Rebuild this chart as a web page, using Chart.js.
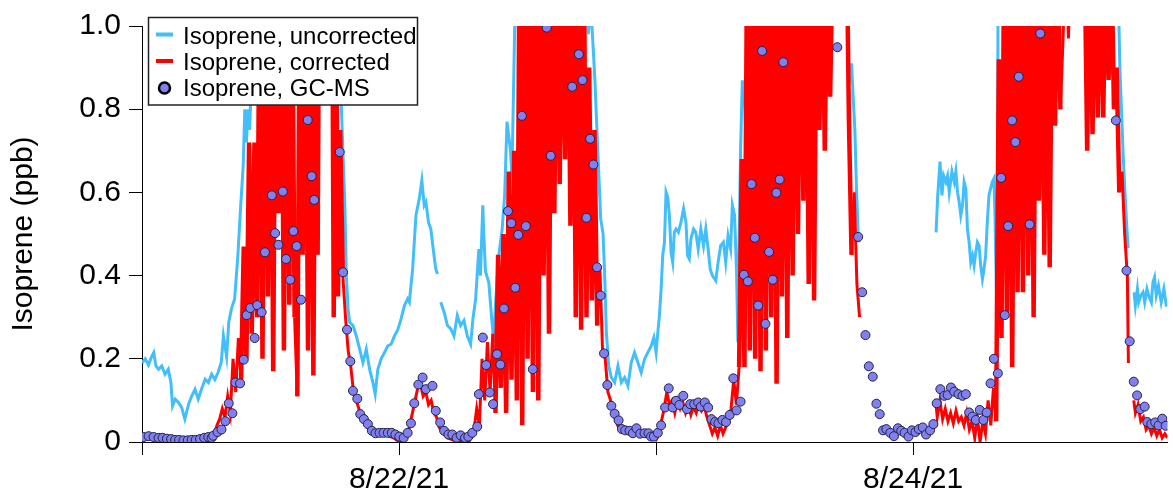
<!DOCTYPE html>
<html>
<head>
<meta charset="utf-8">
<script src="https://cdn.jsdelivr.net/npm/chart.js@4.4.1/dist/chart.umd.min.js"></script>
<style>
  html, body { margin: 0; padding: 0; background: #fff; }
  #wrap { width: 1173px; height: 495px; }
</style>
</head>
<body>
<div id="wrap"><canvas id="myChart" width="1173" height="495"></canvas></div>
<script>
// x values are hours since 8/21/21 00:00
const xTicks = [0, 24, 48, 72];
const xTickLabels = ['', '8/22/21', '', '8/24/21'];
const yTicks = [0, 0.2, 0.4, 0.6, 0.8, 1.0];
const yTickLabels = ['0', '0.2', '0.4', '0.6', '0.8', '1.0'];
const seriesNames = ['Isoprene, uncorrected', 'Isoprene, corrected', 'Isoprene, GC-MS'];

// [hour, ppb]  (null = gap, values > 1 run off the top of the plot)
const uncorrected = [
    [0,0.19],[0.3,0.2],[0.6,0.185],[0.9,0.205],[1.1,0.215],[1.3,0.183],[1.55,0.175],[1.85,0.183],[2.15,0.163],[2.45,0.175],
    [2.7,0.143],[2.85,0.087],[3.1,0.103],[3.4,0.095],[3.7,0.083],[4.0,0.055],[4.35,0.091],[4.65,0.111],[4.95,0.127],[5.25,0.103],
    [5.55,0.127],[5.9,0.151],[6.2,0.143],[6.5,0.163],[6.8,0.15],[7.1,0.167],[7.4,0.191],[7.6,0.255],[7.9,0.205],[8.1,0.288],
    [8.35,0.32],[8.65,0.344],[8.95,0.448],[9.2,0.561],[9.45,0.665],[9.6,0.8],[9.75,0.72],[9.9,0.8],[10.05,0.75],[10.2,0.87],
    [10.5,1.3],[12,1.3],[14,1.3],[16,1.3],[18.3,1.1],[18.62,0.8],[18.93,0.577],[19.08,0.4],[19.24,0.32],[19.39,0.288],
    [19.7,0.28],[20.01,0.255],[20.32,0.223],[20.63,0.191],[20.94,0.223],[21.25,0.175],[21.56,0.143],[21.77,0.115],[22.02,0.175],[22.33,0.2],
    [22.64,0.215],[22.95,0.231],[23.26,0.235],[23.57,0.255],[23.88,0.27],[24.19,0.296],[24.5,0.328],[24.8,0.344],[24.96,0.336],[25.27,0.416],
    [25.58,0.545],[25.89,0.585],[26.13,0.629],[26.35,0.569],[26.51,0.577],[26.75,0.528],[26.97,0.512],[27.19,0.464],[27.43,0.416],[27.59,0.404],
    [27.75,null],[27.9,0.336],[28.21,0.312],[28.52,0.28],[28.83,0.272],[29.13,0.255],[29.44,0.304],[29.75,0.28],[30.06,0.292],[30.37,0.255],
    [30.68,0.235],[30.9,0.296],[31.15,0.344],[31.45,0.464],[31.6,0.4],[31.82,0.569],[31.91,0.5],[32.07,0.41],[32.38,0.384],[32.63,0.304],
    [32.84,0.24],[33.0,0.33],[33.31,0.448],[33.62,0.51],[33.86,0.593],[34.08,0.77],[34.39,0.705],[34.54,0.64],[34.8,1.0],[35.1,1.3],
    [38,1.3],[41.5,1.3],[41.66,0.98],[41.9,1.05],[42.12,0.95],[42.28,0.874],[42.59,0.68],[42.83,0.537],[43.05,0.5],[43.2,0.4],
    [43.36,0.263],[43.57,0.183],[43.82,0.155],[44.13,0.143],[44.44,0.183],[44.75,0.143],[45.06,0.155],[45.37,0.135],[45.68,0.191],[45.99,0.215],
    [46.3,0.191],[46.61,0.167],[46.92,0.199],[47.22,0.215],[47.53,0.23],[47.79,0.251],[48.0,0.215],[48.16,0.263],[48.31,0.304],[48.47,0.368],
    [48.62,0.448],[48.78,0.48],[48.93,0.601],[49.09,0.589],[49.24,0.545],[49.4,0.456],[49.55,0.432],[49.7,0.504],[49.86,0.512],[50.08,0.504],
    [50.32,0.528],[50.57,0.561],[50.79,0.528],[50.94,0.448],[51.1,0.44],[51.25,0.488],[51.5,0.512],[51.71,0.504],[51.93,0.464],[52.18,0.512],
    [52.43,0.472],[52.64,0.512],[52.86,0.464],[53.05,0.416],[53.26,0.4],[53.57,0.388],[53.79,0.432],[54.03,0.472],[54.28,0.48],[54.5,0.432],
    [54.72,0.496],[54.96,0.464],[55.12,0.569],[55.33,0.545],[55.52,0.4],[55.64,0.239],[55.74,0.464],[55.89,0.705],[56.05,0.866],[56.2,0.866],
    [56.35,0.76],[56.51,0.785],[56.66,1.3],[60,1.3],[65.7,1.3],[65.94,0.92],[66.09,0.88],[66.25,0.91],[66.4,0.83],[66.56,0.75],
    [66.71,0.61],[66.87,0.5],[66.93,0.48],[67.1,null],
    [74.14,0.504],[74.29,0.59],[74.51,0.674],[74.69,0.593],[74.85,0.64],[75.06,0.625],[75.22,0.64],[75.37,0.6],[75.62,0.65],[75.84,0.625],
    [75.99,0.65],[76.15,0.6],[76.3,0.577],[76.45,0.545],[76.61,0.569],[76.76,0.625],[76.92,0.609],[77.07,0.512],[77.23,0.48],[77.38,0.432],
    [77.54,0.448],[77.69,0.424],[77.85,0.456],[78.0,0.48],[78.16,0.472],[78.31,0.424],[78.47,0.392],[78.62,0.416],[78.77,0.448],[78.93,0.53],
    [79.08,0.593],[79.23,0.609],[79.39,0.625],[79.54,0.633],[79.64,0.545],[79.76,0.384],[79.85,0.263],[79.95,1.3],[85,1.3],[90.5,1.3],
    [91.14,1.1],[91.3,0.9],[91.45,0.8],[91.61,0.69],[91.76,0.61],[91.92,0.53],[92.07,0.466],[92.3,null],
    [92.63,0.36],[92.75,0.328],[92.94,0.368],[93.06,0.336],[93.25,0.352],[93.46,0.36],[93.62,0.336],[93.83,0.368],[93.99,0.352],[94.24,0.336],
    [94.39,0.384],[94.54,0.396],[94.7,0.352],[94.91,0.376],[95.16,0.336],[95.41,0.368],[95.63,0.329],[95.75,0.33]
];

const corrected = [
    [0,0.01],[1,0.012],[2,0.008],[3,0.005],[4,0.005],[5,0.008],[6,0.012],[6.5,0.015],[6.75,0.02],[7.0,0.04],
    [7.25,0.055],[7.5,0.08],[7.75,0.06],[8.0,0.11],[8.25,0.07],[8.5,0.2],[8.75,0.12],[9.0,0.25],[9.25,0.15],[9.5,0.47],
    [9.75,0.2],[10.0,0.72],[10.25,0.26],[10.5,0.72],[10.75,0.3],[11.0,1.2],[11.25,0.2],[11.5,1.2],[11.75,0.35],[12.0,1.2],
    [12.25,0.17],[12.5,1.2],[12.75,0.55],[13.0,1.2],[13.25,0.22],[13.5,1.2],[13.75,0.33],[14.0,1.2],[14.25,0.3],[14.5,0.11],
    [14.75,1.2],[15.0,0.45],[15.25,1.2],[15.5,0.22],[15.75,1.2],[16.0,0.16],[16.25,1.2],[16.4,0.45],[16.55,1.2],[17.75,1.2],
    [17.9,0.3],[18.1,1.2],[18.3,0.35],[18.5,0.75],[18.75,0.4],[19.0,0.3],[19.25,0.22],[19.5,0.18],[19.75,0.12],[20.0,0.1],
    [20.25,0.08],[20.5,0.06],[20.75,0.05],[21.0,0.04],[21.5,0.025],[22.0,0.015],[22.5,0.02],[23.0,0.015],[23.5,0.01],[24.0,0.0],
    [24.5,0.005],[24.75,0.015],[25.0,0.04],[25.25,0.07],[25.5,0.1],[25.75,0.13],[26.0,0.14],[26.25,0.11],[26.5,0.12],[26.75,0.09],
    [27.0,0.1],[27.25,0.07],[27.5,0.06],[27.75,0.035],[28.0,0.025],[28.5,0.01],[29.0,0.005],[29.5,0.0],[30.0,0.005],[30.5,0.0],
    [30.75,0.01],[31.0,0.03],[31.25,0.08],[31.5,0.04],[31.75,0.2],[32.0,0.1],[32.25,0.24],[32.5,0.12],[32.75,0.26],[33.0,0.07],
    [33.25,0.45],[33.5,0.13],[33.75,0.5],[34.0,0.07],[34.25,0.65],[34.5,0.15],[34.75,0.7],[35.0,0.1],[35.25,1.2],[35.5,0.04],
    [35.75,1.2],[36.0,0.2],[36.25,1.2],[36.5,0.12],[36.75,1.2],[37.0,0.1],[37.25,1.2],[37.5,0.4],[37.75,1.2],[38.0,0.26],
    [38.25,1.2],[38.5,0.55],[38.75,1.2],[39.0,0.62],[39.25,1.2],[39.5,0.68],[39.75,1.2],[40.0,0.52],[40.25,1.2],[40.5,0.3],
    [40.75,1.2],[41.0,0.27],[41.25,1.2],[41.5,0.3],[41.75,0.9],[42.0,0.34],[42.25,0.75],[42.5,0.28],[42.75,0.42],[43.0,0.22],
    [43.25,0.2],[43.5,0.12],[43.75,0.1],[44.0,0.07],[44.25,0.05],[44.5,0.035],[45.0,0.025],[45.5,0.02],[46.0,0.03],[46.5,0.015],
    [47.0,0.02],[47.5,0.01],[48.0,0.005],[48.25,0.02],[48.5,0.05],[48.75,0.08],[49.0,0.12],[49.25,0.09],[49.5,0.1],[49.75,0.07],
    [50.0,0.1],[50.25,0.08],[50.5,0.095],[50.75,0.07],[51.0,0.09],[51.25,0.065],[51.5,0.085],[51.75,0.07],[52.0,0.09],[52.25,0.075],
    [52.5,0.085],[52.75,0.06],[53.0,0.04],[53.25,0.02],[53.5,0.035],[53.75,0.015],[54.0,0.04],[54.25,0.02],[54.5,0.035],[54.75,0.05],
    [55.0,0.08],[55.25,0.15],[55.5,0.09],[55.75,0.18],[56.0,0.68],[56.25,0.18],[56.5,1.2],[56.75,0.22],[57.0,1.2],[57.25,0.2],
    [57.5,1.2],[57.75,0.17],[58.0,1.2],[58.25,0.22],[58.5,1.2],[58.75,0.3],[59.0,1.2],[59.25,0.14],[59.5,1.2],[59.75,0.35],
    [60.0,1.2],[60.25,0.25],[60.5,1.2],[60.75,0.4],[61.0,1.2],[61.25,0.5],[61.5,1.2],[61.75,0.58],[62.0,1.2],[62.25,0.38],
    [62.5,1.2],[62.75,0.34],[63.0,1.2],[63.25,0.75],[63.5,1.2],[63.75,0.7],[64.0,1.2],[64.25,0.83],[64.5,1.2],[65.8,1.2],
    [66.0,0.78],[66.25,0.45],[66.5,0.6],[66.75,0.38],[67.0,0.3],[67.1,null],
    [74.1,0.1],[74.25,0.06],[74.5,0.1],[74.75,0.055],[75.0,0.08],[75.25,0.05],[75.5,0.07],[75.75,0.045],[76.0,0.075],[76.25,0.05],
    [76.5,0.06],[76.75,0.04],[77.0,0.07],[77.25,0.03],[77.5,0.05],[77.75,0.01],[78.0,0.06],[78.25,0.0],[78.5,0.05],[78.75,0.02],
    [79.0,0.1],[79.25,0.04],[79.5,0.13],[79.75,0.05],[80.0,0.92],[80.25,0.25],[80.5,1.2],[80.75,0.3],[81.0,1.2],[81.25,0.18],
    [81.5,1.2],[81.75,0.36],[82.0,1.2],[82.25,0.36],[82.5,1.2],[82.75,0.4],[83.0,1.2],[83.25,0.3],[83.5,1.2],[83.75,0.58],
    [84.0,1.2],[84.25,0.45],[84.5,1.2],[84.75,0.42],[85.0,1.2],[85.25,0.76],[85.5,1.2],[85.75,0.8],[86.0,0.97],[86.25,1.2],
    [86.5,0.97],[86.75,1.2],[88.0,1.2],[88.25,0.7],[88.5,1.2],[88.75,0.74],[89.0,1.2],[89.25,0.78],[89.5,1.2],[89.75,0.78],
    [90.0,1.2],[90.25,0.87],[90.5,1.2],[90.75,0.8],[91.0,0.9],[91.25,0.6],[91.5,0.65],[91.75,0.5],[92.0,0.4],[92.1,0.19],
    [92.3,null],
    [92.6,0.1],[92.75,0.07],[93.0,0.09],[93.25,0.05],[93.5,0.06],[93.75,0.03],[94.0,0.04],[94.25,0.02],[94.5,0.035],[94.75,0.015],
    [95.0,0.03],[95.25,0.01],[95.5,0.02],[95.75,0.01]
];

const gcms = [
    [0.15,0.012],[0.62,0.014],[1.08,0.012],[1.55,0.01],[1.92,0.01],[2.32,0.008],[2.72,0.007],[3.09,0.005],[3.46,0.005],[3.87,0.004],
    [4.27,0.004],[4.64,0.005],[5.01,0.005],[5.41,0.007],[5.81,0.01],[6.19,0.012],[6.5,0.01],[6.65,0.015],[7.05,0.024],[7.42,0.03],
    [7.79,0.05],[8.10,0.093],[8.44,0.069],[8.72,0.143],[9.16,0.141],[9.50,0.198],[9.77,0.305],[10.11,0.322],[10.52,0.25],[10.76,0.329],
    [11.17,0.312],[11.48,0.456],[12.12,0.593],[12.43,0.502],[12.74,0.474],[13.15,0.602],[13.45,0.44],[13.83,0.39],[14.14,0.507],[14.44,0.471],
    [14.85,0.342],[15.47,0.774],[15.84,0.639],[16.08,0.582],
    [18.46,0.697],[18.77,0.408],[19.14,0.27],[19.45,0.194],[19.7,0.123],[20.1,0.104],[20.38,0.067],[20.72,0.055],[21.09,0.043],[21.46,0.027],
    [21.8,0.021],[22.18,0.022],[22.55,0.022],[22.95,0.022],[23.32,0.022],[23.66,0.018],[24.03,0.013],[24.43,0.01],[24.8,0.022],[25.11,0.045],
    [25.42,0.093],[25.8,0.138],[26.2,0.155],[26.51,0.127],[27.12,0.135],[27.43,0.075],[27.84,0.047],[28.21,0.027],[28.61,0.018],[28.98,0.018],
    [29.38,0.01],[29.75,0.016],[30.16,0.01],[30.47,0.013],[30.84,0.022],[31.3,0.037],[31.45,0.115],[31.82,0.251],[32.13,0.185],[32.47,0.119],
    [32.78,0.091],[33.15,0.211],[33.46,0.186],[33.8,0.321],[34.17,0.555],[34.48,0.526],[34.85,0.371],[35.13,0.498],[35.47,0.784],[35.84,0.519],
    [36.49,0.175],[37.79,0.996],[38.16,0.688],[40.17,0.854],[40.79,0.932],[41.13,0.87],[41.5,0.539],[41.84,0.729],[42.15,0.667],[42.49,0.42],
    [42.83,0.352],[43.14,0.213],[43.45,0.137],[43.82,0.087],[44.13,0.068],[44.5,0.052],[44.81,0.031],[45.12,0.028],[45.52,0.027],[45.83,0.021],
    [46.17,0.033],[46.51,0.02],[46.92,0.021],[47.29,0.021],[47.53,0.013],[47.79,0.013],[48.16,0.022],[48.47,0.04],[48.84,0.083],[49.18,0.129],
    [49.55,0.083],[49.86,0.099],[50.17,0.089],[50.54,0.111],[50.88,0.079],[51.19,0.091],[51.56,0.091],[51.93,0.095],[52.18,0.085],[52.55,0.095],
    [52.86,0.083],[53.17,0.055],[53.51,0.048],[53.82,0.045],[54.19,0.053],[54.53,0.048],[54.87,0.065],[55.21,0.153],[55.52,0.076],[55.89,0.097],
    [56.2,0.402],[56.57,0.386],[56.91,0.62],[57.22,0.491],[57.53,0.328],[57.9,0.94],[58.21,0.284],[58.55,0.457],[58.89,0.39],[59.23,0.599],
    [59.54,0.631],[59.88,0.913],
    [64.92,0.949],[66.87,0.493],[67.24,0.36],[67.55,0.257],[67.86,0.182],[68.23,0.157],[68.57,0.092],[68.88,0.067],[69.19,0.028],[69.5,0.031],
    [69.87,0.022],[70.21,0.014],[70.58,0.033],[70.89,0.027],[71.2,0.022],[71.57,0.013],[71.88,0.028],[72.22,0.024],[72.53,0.031],[72.9,0.035],
    [73.21,0.018],[73.58,0.028],[73.89,0.043],[74.2,0.093],[74.54,0.127],[74.91,0.111],[75.22,0.113],[75.53,0.131],[75.84,0.121],[76.24,0.115],
    [76.61,0.111],[76.92,0.115],[77.23,0.071],[77.54,0.061],[77.85,0.053],[78.22,0.077],[78.56,0.053],[78.87,0.071],[79.23,0.141],[79.54,0.2],
    [79.91,0.165],[80.22,0.635],[80.56,0.305],[80.87,0.519],[81.24,0.773],[81.55,0.721],[81.86,0.878],[82.88,0.523],[83.87,0.982],
    [90.93,0.773],[91.92,0.412],[92.22,0.242],[92.6,0.145],[92.91,0.112],[93.21,0.079],[93.62,0.085],[93.86,0.048],[94.24,0.043],[94.6,0.047],
    [94.92,0.04],[95.26,0.056],[95.58,0.039]
];

const blue = 'rgb(66,190,250)';
const red = 'rgb(255,0,0)';
const dotFill = 'rgb(128,128,240)';
const dotEdge = 'rgb(35,35,70)';

function toXY(arr) {
    return arr.map(p => ({ x: p[0], y: p[1] }));
}

Chart.defaults.font.family = '"Liberation Sans", Arial, Helvetica, sans-serif';
Chart.defaults.color = '#000';

// legend box drawn inside the plot, top left
const legendBox = {
    id: 'legendBox',
    afterDraw(chart) {
        const ctx = chart.ctx;
        ctx.save();
        ctx.fillStyle = '#fff';
        ctx.fillRect(148.5, 17.5, 269, 87.5);
        ctx.strokeStyle = '#222';
        ctx.lineWidth = 1.5;
        ctx.strokeRect(148.5, 17.5, 269, 87.5);

        const baselines = [43.5, 70, 96];
        const mids = [34.5, 61, 88];
        ctx.font = '24px "Liberation Sans", Arial, sans-serif';
        ctx.textBaseline = 'alphabetic';
        ctx.textAlign = 'left';

        // uncorrected
        ctx.strokeStyle = blue;
        ctx.lineWidth = 4;
        ctx.beginPath(); ctx.moveTo(156, mids[0]); ctx.lineTo(173, mids[0]); ctx.stroke();
        // corrected
        ctx.strokeStyle = red;
        ctx.beginPath(); ctx.moveTo(156, mids[1]); ctx.lineTo(173, mids[1]); ctx.stroke();
        // gc-ms
        ctx.beginPath();
        ctx.arc(164.5, mids[2], 5.5, 0, Math.PI * 2);
        ctx.fillStyle = dotFill;
        ctx.fill();
        ctx.lineWidth = 2.5;
        ctx.strokeStyle = '#000';
        ctx.stroke();

        ctx.fillStyle = '#000';
        seriesNames.forEach((name, i) => ctx.fillText(name, 183, baselines[i]));
        ctx.restore();
    }
};

const config = {
    type: 'line',
    data: {
        datasets: [
            {
                label: seriesNames[2],
                data: toXY(gcms),
                showLine: false,
                pointRadius: 4.5,
                pointBackgroundColor: dotFill,
                pointBorderColor: dotEdge,
                pointBorderWidth: 1,
                order: 1
            },
            {
                label: seriesNames[1],
                data: toXY(corrected),
                borderColor: red,
                borderWidth: 3,
                // the fast daytime swings are drawn a bit wider so they pack like the dense original trace
                segment: {
                    borderWidth: (c) => Math.abs(c.p1.parsed.y - c.p0.parsed.y) > 0.25 ? 4.5 : 3
                },
                pointRadius: 0,
                order: 2
            },
            {
                label: seriesNames[0],
                data: toXY(uncorrected),
                borderColor: blue,
                borderWidth: 3,
                pointRadius: 0,
                order: 3
            }
        ]
    },
    options: {
        responsive: false,
        animation: false,
        devicePixelRatio: 1,
        events: [],
        layout: { padding: { top: 25, right: 0, bottom: 0, left: 0 } },
        elements: { line: { tension: 0 } },
        plugins: {
            legend: { display: false },
            tooltip: { enabled: false }
        },
        scales: {
            x: {
                type: 'linear',
                min: 0,
                max: 95.75,
                afterBuildTicks: (s) => { s.ticks = xTicks.map(v => ({ value: v })); },
                afterFit: (s) => { s.height = 53; },
                ticks: {
                    autoSkip: false,
                    maxRotation: 0,
                    padding: 7,
                    font: { size: 30 },
                    callback: (v, i) => xTickLabels[i]
                },
                grid: { drawOnChartArea: false, tickLength: 13, color: '#000' },
                border: { color: '#000', width: 1 }
            },
            y: {
                min: 0,
                max: 1,
                afterBuildTicks: (s) => { s.ticks = yTicks.map(v => ({ value: v })); },
                afterFit: (s) => { s.width = 142; },
                ticks: {
                    padding: 8,
                    font: { size: 30 },
                    callback: (v, i) => yTickLabels[i]
                },
                grid: { drawOnChartArea: false, tickLength: 13, color: '#000' },
                border: { color: '#000', width: 1 },
                title: {
                    display: true,
                    text: 'Isoprene (ppb)',
                    font: { size: 30 },
                    padding: { top: 6, bottom: 0 }
                }
            }
        }
    },
    plugins: [legendBox]
};

const myChart = new Chart(document.getElementById('myChart'), config);
</script>
</body>
</html>
